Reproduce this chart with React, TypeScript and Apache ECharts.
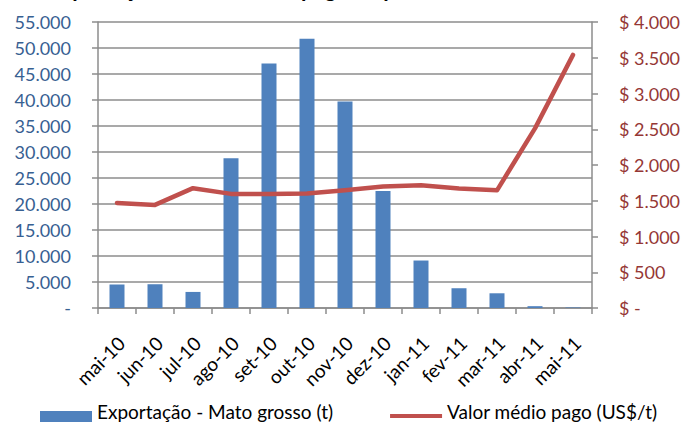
import React, { useEffect, useRef } from "react";
import * as echarts from "echarts";

const categories = ["mai-10", "jun-10", "jul-10", "ago-10", "set-10", "out-10", "nov-10", "dez-10", "jan-11", "fev-11", "mar-11", "abr-11", "mai-11"];
const exportacao = [4520, 4570, 3090, 28800, 47000, 51800, 39700, 22500, 9130, 3800, 2830, 350, 100];
const valorMedio = [1470, 1442, 1676, 1596, 1596, 1600, 1648, 1699, 1716, 1670, 1646, 2512, 3540];
const seriesNames = ["Exportação - Mato grosso (t)", "Valor médio pago (US$/t)"];
const titleText = "Exportação e valor médio pago ao produtor";

const FONT = "Lato";

function thousands(n: number): string {
  return String(n).replace(/\B(?=(\d{3})+(?!\d))/g, ".");
}

export default function App() {
  const ref = useRef<HTMLDivElement>(null);
  useEffect(() => {
    if (!ref.current) return;
    const chart = echarts.init(ref.current, undefined, { renderer: "svg" });
    const gray = "#8c8c8c";
    chart.setOption({
      animation: false,
      backgroundColor: "#ffffff",
      textStyle: { fontFamily: FONT },
      graphic: [
        {
          type: "text",
          left: 48,
          top: -23,
          style: {
            text: titleText,
            font: `bold 22px ${FONT}`,
            fill: "#000000",
          },
        },
      ],
      grid: { left: 98, right: 94, top: 22, bottom: 118, containLabel: false },
      legend: {
        left: 40,
        top: 400,
        padding: 0,
        itemWidth: 52,
        itemHeight: 22,
        itemGap: 57,
        itemStyle: { borderWidth: 0 },
        textStyle: { fontFamily: FONT, fontSize: 19, color: "#000000" },
        data: [
          { name: seriesNames[0], icon: "path://M0,0 M0,11 H52 V22 H0 Z M52,22" },
          { name: seriesNames[1], icon: "path://M0,0 M0,14 H52 V18 H0 Z M52,22" },
        ],
      },
      xAxis: {
        type: "category",
        data: categories,
        boundaryGap: true,
        axisLine: { lineStyle: { color: gray, width: 1.5 } },
        axisTick: { show: true, length: 6, lineStyle: { color: gray, width: 1.5 } },
        axisLabel: {
          rotate: 45,
          margin: 36,
          padding: [0, -6, 0, 0],
          fontSize: 19,
          fontFamily: FONT,
          color: "#000000",
          interval: 0,
        },
      },
      yAxis: [
        {
          type: "value",
          min: 0,
          max: 55000,
          interval: 5000,
          position: "left",
          axisLine: { show: true, lineStyle: { color: gray, width: 1.5 } },
          axisTick: { show: true, length: 6, lineStyle: { color: gray, width: 1.5 } },
          splitLine: { show: true, lineStyle: { color: gray, width: 1.5 } },
          axisLabel: {
            margin: 27,
            fontSize: 18,
            fontFamily: FONT,
            color: "#376092",
            formatter: (v: number) => (v === 0 ? "-" : thousands(v)),
          },
        },
        {
          type: "value",
          min: 0,
          max: 4000,
          interval: 500,
          position: "right",
          axisLine: { show: true, lineStyle: { color: gray, width: 1.5 } },
          axisTick: { show: true, length: 6, lineStyle: { color: gray, width: 1.5 } },
          splitLine: { show: false },
          axisLabel: {
            margin: 27,
            fontSize: 18,
            fontFamily: FONT,
            color: "#953735",
            formatter: (v: number) => (v === 0 ? "$ -" : "$ " + thousands(v)),
          },
        },
      ],
      series: [
        {
          name: seriesNames[0],
          type: "bar",
          yAxisIndex: 0,
          data: exportacao,
          barWidth: 15,
          itemStyle: { color: "#4f81bd" },
        },
        {
          name: seriesNames[1],
          type: "line",
          yAxisIndex: 1,
          data: valorMedio,
          symbol: "none",
          showSymbol: false,
          itemStyle: { color: "#c0504d" },
          lineStyle: { color: "#c0504d", width: 4.5, cap: "round", join: "round" },
        },
      ],
    });
    return () => chart.dispose();
  }, []);
  return (
    <div
      ref={ref}
      style={{ position: "absolute", left: 0, top: 0, width: 686, height: 426 }}
    />
  );
}
